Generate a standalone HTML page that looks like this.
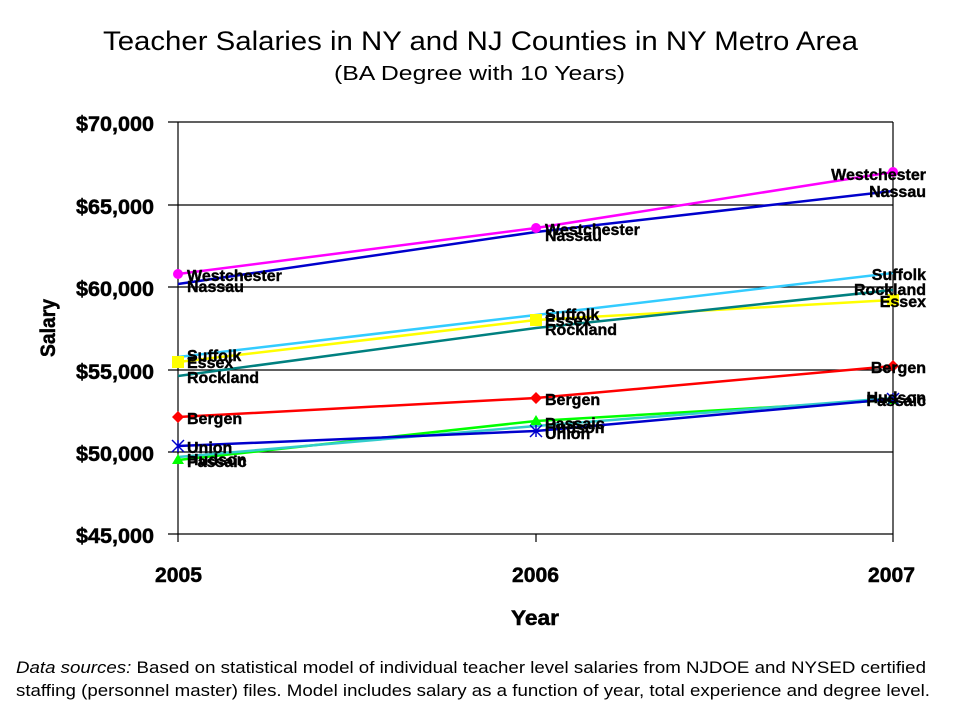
<!DOCTYPE html>
<html><head><meta charset="utf-8"><style>
html,body{margin:0;padding:0;background:#fff;}
svg text{font-family:"Liberation Sans",Arial,sans-serif;}
.b{font-weight:bold;}
.lab{font-weight:bold;font-size:16px;fill:#000;stroke:#000;stroke-width:0.4;}
</style></head><body>
<svg width="960" height="720" viewBox="0 0 960 720" xmlns="http://www.w3.org/2000/svg">
<rect width="960" height="720" fill="#fff"/>
<text x="103" y="50" font-size="27" textLength="755" lengthAdjust="spacingAndGlyphs">Teacher Salaries in NY and NJ Counties in NY Metro Area</text>
<text x="334" y="80" font-size="20" textLength="291" lengthAdjust="spacingAndGlyphs">(BA Degree with 10 Years)</text>
<!-- grid -->
<g stroke="#000" stroke-width="1.2">
<line x1="168" y1="122" x2="893" y2="122"/>
<line x1="168" y1="205" x2="893" y2="205"/>
<line x1="168" y1="287" x2="893" y2="287"/>
<line x1="168" y1="370" x2="893" y2="370"/>
<line x1="168" y1="452" x2="893" y2="452"/>
<line x1="168" y1="534" x2="893" y2="534"/>
<line x1="178" y1="122" x2="178" y2="542"/>
<line x1="893" y1="122" x2="893" y2="542"/>
<line x1="536" y1="534" x2="536" y2="542"/>
</g>
<g class="b" font-size="21" text-anchor="end" fill="#000" stroke="#000" stroke-width="0.5">
<text x="154" y="131" textLength="78" lengthAdjust="spacingAndGlyphs">$70,000</text>
<text x="154" y="214" textLength="78" lengthAdjust="spacingAndGlyphs">$65,000</text>
<text x="154" y="296" textLength="78" lengthAdjust="spacingAndGlyphs">$60,000</text>
<text x="154" y="379" textLength="78" lengthAdjust="spacingAndGlyphs">$55,000</text>
<text x="154" y="461" textLength="78" lengthAdjust="spacingAndGlyphs">$50,000</text>
<text x="154" y="543" textLength="78" lengthAdjust="spacingAndGlyphs">$45,000</text>
</g>
<g class="b" font-size="21" fill="#000" stroke="#000" stroke-width="0.5">
<text x="155" y="582" textLength="47" lengthAdjust="spacingAndGlyphs">2005</text>
<text x="512" y="582" textLength="47" lengthAdjust="spacingAndGlyphs">2006</text>
<text x="868" y="582" textLength="47" lengthAdjust="spacingAndGlyphs">2007</text>
<text x="511" y="625" textLength="48" lengthAdjust="spacingAndGlyphs">Year</text>
<text transform="translate(55,357) rotate(-90)" textLength="58" lengthAdjust="spacingAndGlyphs">Salary</text>
</g>
<!-- series -->
<g fill="none" stroke-width="2.5">
<polyline stroke="#ff00ff" points="178,274 536,228 893,172"/>
<polyline stroke="#0000cc" points="178,284 536,232 893,191"/>
<polyline stroke="#33ccff" points="178,357 536,315 893,273"/>
<polyline stroke="#ffff00" points="178,362 536,320 893,300"/>
<polyline stroke="#008080" points="178,376 536,328 893,290"/>
<polyline stroke="#ff0000" points="178,417 536,398 893,366"/>
<polyline stroke="#00ff00" points="178,460 536,421 893,400"/>
<polyline stroke="#33cccc" points="178,457 536,426 893,398"/>
<polyline stroke="#0000cc" points="178,446 536,431 893,399"/>
</g>
<!-- markers -->
<g>
<circle cx="178" cy="274" r="5" fill="#ff00ff"/><circle cx="536" cy="228" r="5" fill="#ff00ff"/><circle cx="893" cy="172" r="5" fill="#ff00ff"/>
<rect x="172" y="356" width="12" height="12" fill="#ffff00"/><rect x="530" y="314" width="12" height="12" fill="#ffff00"/><rect x="887" y="294" width="12" height="12" fill="#ffff00"/>
<path d="M178 411l6 6-6 6-6-6z M536 392l6 6-6 6-6-6z M893 360l6 6-6 6-6-6z" fill="#ff0000"/>
<path d="M178 454l6 10h-12z M536 415l6 10h-12z M893 394l6 10h-12z" fill="#00ff00"/>
<path d="M172 440l12 12M184 440l-12 12M178 440v12 M530 425l12 12M542 425l-12 12M536 425v12 M887 393l12 12M899 393l-12 12M893 393v12" stroke="#0000cc" stroke-width="1.5"/>
</g>
<!-- labels -->
<g class="lab">
<text x="187" y="281">Westchester</text>
<text x="187" y="292">Nassau</text>
<text x="187" y="361">Suffolk</text>
<text x="187" y="368">Essex</text>
<text x="187" y="383">Rockland</text>
<text x="187" y="424">Bergen</text>
<text x="187" y="453">Union</text>
<text x="187" y="465">Hudson</text>
<text x="187" y="467">Passaic</text>
<text x="545" y="235">Westchester</text>
<text x="545" y="241">Nassau</text>
<text x="545" y="320">Suffolk</text>
<text x="545" y="326">Essex</text>
<text x="545" y="335">Rockland</text>
<text x="545" y="405">Bergen</text>
<text x="545" y="429">Passaic</text>
<text x="545" y="433">Hudson</text>
<text x="545" y="439">Union</text>
</g>
<g class="lab" text-anchor="end">
<text x="926" y="180">Westchester</text>
<text x="926" y="197">Nassau</text>
<text x="926" y="280">Suffolk</text>
<text x="926" y="295">Rockland</text>
<text x="926" y="307">Essex</text>
<text x="926" y="373">Bergen</text>
<text x="926" y="403">Hudson</text>
<text x="926" y="406">Passaic</text>
</g>
<text x="16" y="673" font-size="16.5" textLength="910" lengthAdjust="spacingAndGlyphs"><tspan font-style="italic">Data sources:</tspan> Based on statistical model of individual teacher level salaries from NJDOE and NYSED certified</text>
<text x="16" y="696" font-size="16.5" textLength="914" lengthAdjust="spacingAndGlyphs">staffing (personnel master) files. Model includes salary as a function of year, total experience and degree level.</text>
</svg>
</body></html>
